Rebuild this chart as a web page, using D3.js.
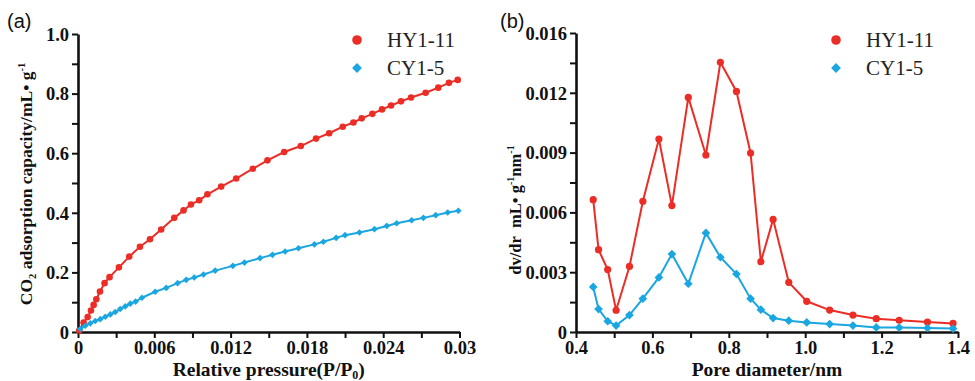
<!DOCTYPE html>
<html>
<head>
<meta charset="utf-8">
<script src="https://cdn.jsdelivr.net/npm/d3@7"></script>
<style>
  body { margin: 0; background: #fff; }
  svg { display: block; }
</style>
</head>
<body>
<div id="app"></div>
<script>
// (a) CO2 adsorption isotherms
const hyP = [0.0001, 0.00044, 0.00076, 0.00102, 0.00123, 0.00144, 0.00173, 0.00209, 0.00248, 0.00322,
             0.00403, 0.00487, 0.00566, 0.00654, 0.00757, 0.00830, 0.00888, 0.00953, 0.01018, 0.01126,
             0.01244, 0.01375, 0.01490, 0.01621, 0.01752, 0.01872, 0.01975, 0.02082, 0.02166, 0.02231,
             0.02315, 0.02391, 0.02462, 0.02540, 0.02619, 0.02734, 0.02833, 0.02917, 0.02986];
const hyQ = [0.005, 0.032, 0.050, 0.072, 0.091, 0.110, 0.136, 0.164, 0.184, 0.217,
             0.253, 0.286, 0.311, 0.344, 0.383, 0.408, 0.428, 0.442, 0.462, 0.488,
             0.515, 0.548, 0.576, 0.604, 0.624, 0.649, 0.667, 0.689, 0.703, 0.717,
             0.732, 0.747, 0.760, 0.774, 0.787, 0.803, 0.820, 0.836, 0.846];
const cyP = [0.00018, 0.00057, 0.00097, 0.00136, 0.00175, 0.00215, 0.00254, 0.00293, 0.00332, 0.00372,
             0.00411, 0.00453, 0.00503, 0.00607, 0.00694, 0.00783, 0.00851, 0.00914, 0.00987, 0.01079,
             0.01218, 0.01309, 0.01432, 0.01529, 0.01629, 0.01734, 0.01859, 0.01930, 0.02030, 0.02100,
             0.02213, 0.02331, 0.02428, 0.02506, 0.02624, 0.02716, 0.02813, 0.02907, 0.02991];
const cyQ = [0.010, 0.021, 0.029, 0.037, 0.043, 0.051, 0.059, 0.067, 0.077, 0.086,
             0.095, 0.102, 0.115, 0.135, 0.148, 0.164, 0.175, 0.183, 0.193, 0.206,
             0.222, 0.233, 0.248, 0.259, 0.270, 0.281, 0.294, 0.303, 0.316, 0.325,
             0.334, 0.345, 0.356, 0.365, 0.375, 0.383, 0.392, 0.401, 0.407];
const aXTicks = [0, 0.006, 0.012, 0.018, 0.024, 0.03];
const aXTickLabels = ["0", "0.006", "0.012", "0.018", "0.024", "0.03"];
const aYTicks = [0, 0.2, 0.4, 0.6, 0.8, 1.0];
const aYTickLabels = ["0", "0.2", "0.4", "0.6", "0.8", "1.0"];

// (b) pore size distribution
const poreD = [0.445, 0.459, 0.483, 0.505, 0.540, 0.575, 0.617, 0.651, 0.694, 0.740, 0.778, 0.820,
               0.857, 0.884, 0.916, 0.957, 1.004, 1.064, 1.125, 1.186, 1.246, 1.320, 1.387];
const hyDv = [0.00664, 0.00413, 0.00313, 0.00109, 0.00329, 0.00656, 0.00968, 0.00634, 0.01177, 0.00888,
              0.01353, 0.01207, 0.00898, 0.00353, 0.00565, 0.00249, 0.00154, 0.00110, 0.00085, 0.00067,
              0.00059, 0.00050, 0.00043];
const cyDv = [0.00226, 0.00115, 0.00054, 0.00032, 0.00085, 0.00167, 0.00274, 0.00391, 0.00242, 0.00497,
              0.00375, 0.00291, 0.00167, 0.00112, 0.00070, 0.00057, 0.00048, 0.00040, 0.00032, 0.00023,
              0.00022, 0.00020, 0.00017];
const bXTicks = [0.4, 0.6, 0.8, 1.0, 1.2, 1.4];
const bXTickLabels = ["0.4", "0.6", "0.8", "1.0", "1.2", "1.4"];
const bYTicks = [0, 0.003, 0.006, 0.009, 0.012, 0.015];
const bYTickLabels = ["0", "0.003", "0.006", "0.009", "0.012", "0.016"];

const seriesNames = ["HY1-11", "CY1-5"];
const RED = "#ec2d26", BLUE = "#1aa6e0";
const SERIF = "Liberation Serif, Times New Roman, serif";

const W = 975, H = 381;
const svg = d3.select("#app").append("svg").attr("width", W).attr("height", H)
  .style("font-family", SERIF);

function panel(cfg) {
  const x = d3.scaleLinear().domain(cfg.xDomain).range(cfg.xRange);
  const y = d3.scaleLinear().domain(cfg.yDomain).range(cfg.yRange);
  const g = svg.append("g");
  const y0 = cfg.yRange[0], x0 = cfg.xRange[0];

  // minor ticks
  g.append("g").attr("transform", `translate(0,${y0})`)
    .call(d3.axisBottom(x).tickValues(cfg.xMinor).tickSize(6).tickFormat(""))
    .call(s => s.select(".domain").remove());
  g.append("g").attr("transform", `translate(${x0},0)`)
    .call(d3.axisLeft(y).tickValues(cfg.yMinor).tickSize(6).tickFormat(""))
    .call(s => s.select(".domain").remove());

  const xa = g.append("g").attr("transform", `translate(0,${y0})`)
    .call(d3.axisBottom(x).tickValues(cfg.xTicks).tickSize(6).tickSizeOuter(0).tickPadding(3)
      .tickFormat((d, i) => cfg.xLabels[i]));
  const ya = g.append("g").attr("transform", `translate(${x0},0)`)
    .call(d3.axisLeft(y).tickValues(cfg.yTicks).tickSize(6).tickSizeOuter(0).tickPadding(3)
      .tickFormat((d, i) => cfg.yLabels[i]));

  g.selectAll(".tick line").attr("stroke", "#111").attr("stroke-width", 2);
  [xa, ya].forEach(a => {
    a.attr("font-family", SERIF);
    a.select(".domain").attr("stroke", "#111").attr("stroke-width", 2.6);
    a.selectAll(".tick text").attr("font-weight", "bold").attr("font-size", 18.5).attr("fill", "#111");
  });
  ya.selectAll(".tick text").attr("dy", "0.34em");

  const line = d3.line().x(d => x(d[0])).y(d => y(d[1]));
  const series = [
    { pts: cfg.red, color: RED, sym: "circle" },
    { pts: cfg.blue, color: BLUE, sym: "diamond" }
  ];
  series.forEach(s => {
    g.append("path").datum(s.pts).attr("d", line)
      .attr("fill", "none").attr("stroke", s.color).attr("stroke-width", 2);
    if (s.sym === "circle") {
      g.selectAll(null).data(s.pts).enter().append("circle")
        .attr("cx", d => x(d[0])).attr("cy", d => y(d[1]))
        .attr("r", cfg.r).attr("fill", s.color);
    } else {
      g.selectAll(null).data(s.pts).enter().append("path")
        .attr("d", d3.symbol(d3.symbolSquare, cfg.sq))
        .attr("transform", d => `translate(${x(d[0])},${y(d[1])}) rotate(45)`)
        .attr("fill", s.color);
    }
  });

  // legend
  const lg = g.append("g").attr("transform", `translate(${cfg.legend[0]},${cfg.legend[1]})`);
  lg.append("circle").attr("cx", 0).attr("cy", 0).attr("r", 4.8).attr("fill", RED);
  lg.append("path").attr("d", d3.symbol(d3.symbolSquare, 48))
    .attr("transform", "translate(0,28) rotate(45)").attr("fill", BLUE);
  lg.selectAll("text.lt").data(seriesNames).enter().append("text")
    .attr("x", 30).attr("y", (d, i) => 7 + i * 28)
    .attr("font-size", 21).attr("fill", "#222").text(d => d);

  // panel label
  g.append("text").attr("x", cfg.tag[0]).attr("y", cfg.tag[1])
    .style("font-family", "Liberation Sans, Arial, sans-serif").attr("font-size", 20)
    .attr("fill", "#111").text(cfg.tagText);

  // x title
  const xt = g.append("text").attr("x", (cfg.xRange[0] + cfg.xRange[1]) / 2).attr("y", 376)
    .attr("text-anchor", "middle").attr("font-weight", "bold").attr("font-size", 19.5).attr("fill", "#111");
  cfg.xTitle(xt);

  // y title
  const yt = g.append("text")
    .attr("transform", `translate(${cfg.yTitlePos[0]},${cfg.yTitlePos[1]}) rotate(-90)`)
    .attr("text-anchor", "middle").attr("font-weight", "bold").attr("font-size", cfg.yTitleSize).attr("fill", "#111");
  cfg.yTitle(yt);
}

panel({
  xDomain: [0, 0.03], xRange: [78, 459.5],
  yDomain: [0, 1], yRange: [332, 34],
  xTicks: aXTicks, xLabels: aXTickLabels, xMinor: d3.range(0.003, 0.03, 0.006),
  yTicks: aYTicks, yLabels: aYTickLabels, yMinor: d3.range(0.1, 1, 0.2),
  red: hyP.map((p, i) => [p, hyQ[i]]),
  blue: cyP.map((p, i) => [p, cyQ[i]]),
  r: 3.3, sq: 22,
  legend: [357, 40], tag: [7, 28], tagText: "(a)",
  xTitle: t => {
    t.append("tspan").text("Relative pressure(P/P");
    t.append("tspan").attr("font-size", 12).attr("dy", 3).text("0");
    t.append("tspan").attr("dy", -3).text(")");
  },
  yTitlePos: [32, 184], yTitleSize: 17.5,
  yTitle: t => {
    t.append("tspan").text("CO");
    t.append("tspan").attr("font-size", 10.5).attr("dy", 4).text("2");
    t.append("tspan").attr("dy", -4).text(" adsorption capacity/mL\u2022 g");
    t.append("tspan").attr("font-size", 10.5).attr("dy", -7).text("-1");
  }
});

panel({
  xDomain: [0.4, 1.4], xRange: [576, 958],
  yDomain: [0, 0.015], yRange: [332, 33],
  xTicks: bXTicks, xLabels: bXTickLabels, xMinor: d3.range(0.5, 1.4, 0.2),
  yTicks: bYTicks, yLabels: bYTickLabels, yMinor: d3.range(0.0015, 0.015, 0.003),
  red: poreD.map((p, i) => [p, hyDv[i]]),
  blue: poreD.map((p, i) => [p, cyDv[i]]),
  r: 3.6, sq: 38,
  legend: [836, 40], tag: [500, 28], tagText: "(b)",
  xTitle: t => { t.text("Pore diameter/nm"); },
  yTitlePos: [521, 210], yTitleSize: 16.5,
  yTitle: t => {
    t.append("tspan").text("dv/dr\u00a0\u00a0mL\u2022 g");
    t.append("tspan").attr("font-size", 10).attr("dy", -7).text("-1");
    t.append("tspan").attr("dy", 7).text("nm");
    t.append("tspan").attr("font-size", 10).attr("dy", -7).text("-1");
  }
});
</script>
</body>
</html>
